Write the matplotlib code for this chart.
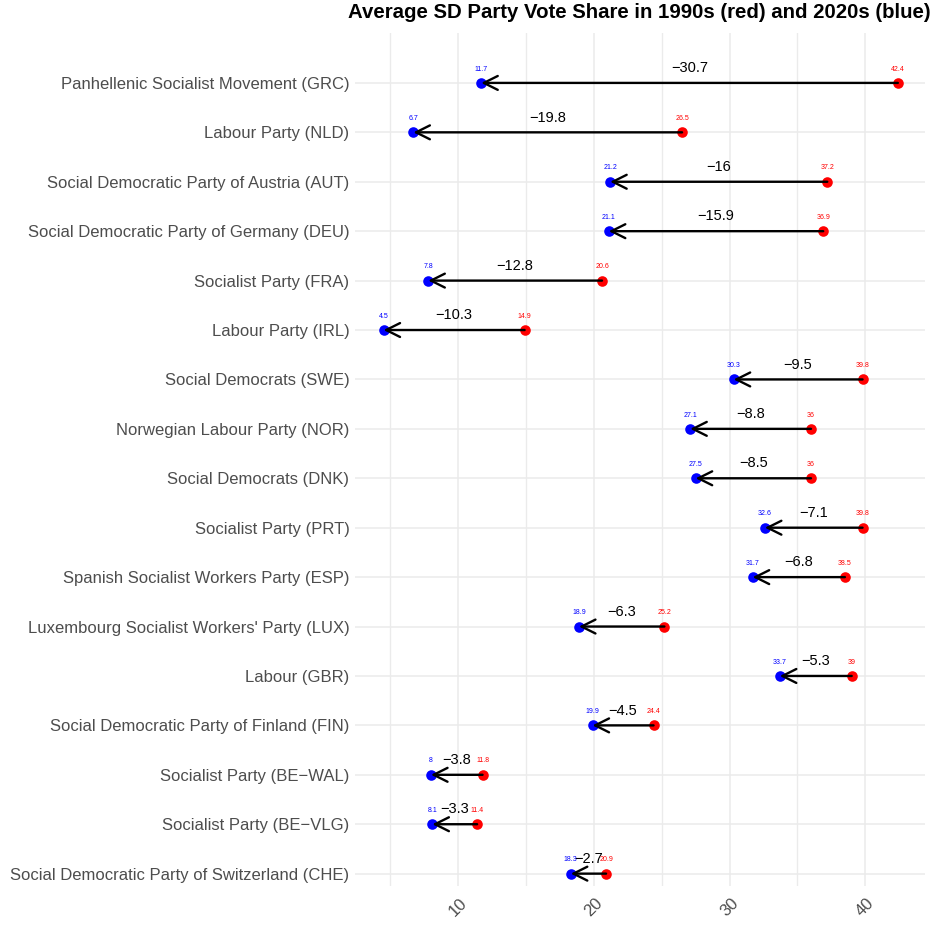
import matplotlib
matplotlib.use("Agg")
import matplotlib.pyplot as plt
from matplotlib.ticker import MultipleLocator

parties = [
    "Panhellenic Socialist Movement (GRC)",
    "Labour Party (NLD)",
    "Social Democratic Party of Austria (AUT)",
    "Social Democratic Party of Germany (DEU)",
    "Socialist Party (FRA)",
    "Labour Party (IRL)",
    "Social Democrats (SWE)",
    "Norwegian Labour Party (NOR)",
    "Social Democrats (DNK)",
    "Socialist Party (PRT)",
    "Spanish Socialist Workers Party (ESP)",
    "Luxembourg Socialist Workers' Party (LUX)",
    "Labour (GBR)",
    "Social Democratic Party of Finland (FIN)",
    "Socialist Party (BE\u2212WAL)",
    "Socialist Party (BE\u2212VLG)",
    "Social Democratic Party of Switzerland (CHE)",
]
share_1990s = [42.4, 26.5, 37.2, 36.9, 20.6, 14.9, 39.8, 36, 36, 39.8, 38.5, 25.2, 39, 24.4, 11.8, 11.4, 20.9]
share_2020s = [11.7, 6.7, 21.2, 21.1, 7.8, 4.5, 30.3, 27.1, 27.5, 32.6, 31.7, 18.9, 33.7, 19.9, 8, 8.1, 18.3]
diff_labels = ["\u221230.7", "\u221219.8", "\u221216", "\u221215.9", "\u221212.8", "\u221210.3",
               "\u22129.5", "\u22128.8", "\u22128.5", "\u22127.1", "\u22126.8", "\u22126.3",
               "\u22125.3", "\u22124.5", "\u22123.8", "\u22123.3", "\u22122.7"]
old_labels = ["42.4", "26.5", "37.2", "36.9", "20.6", "14.9", "39.8", "36", "36", "39.8",
              "38.5", "25.2", "39", "24.4", "11.8", "11.4", "20.9"]
new_labels = ["11.7", "6.7", "21.2", "21.1", "7.8", "4.5", "30.3", "27.1", "27.5", "32.6",
              "31.7", "18.9", "33.7", "19.9", "8", "8.1", "18.3"]
x_ticks = [10, 20, 30, 40]

plt.rcParams['font.family'] = ['Liberation Sans', 'DejaVu Sans']

W, H = 933, 931
fig = plt.figure(figsize=(W / 100, H / 100), dpi=100)
ax = fig.add_axes([355 / W, (H - 886) / H, (925 - 355) / W, (886 - 33) / H])

ypos = list(range(len(parties)))
grid_c = "#EBEBEB"

ax.set_xlim(2.4, 44.4)
ax.set_ylim(16.25, -1.01)
ax.set_xticks(x_ticks)
ax.xaxis.set_minor_locator(MultipleLocator(5))
ax.set_yticks(ypos)
ax.set_yticklabels(parties)
ax.grid(True, which="major", axis="both", color=grid_c, lw=1.1, zorder=0)
ax.grid(True, which="minor", axis="x", color=grid_c, lw=1.0, zorder=0)
ax.set_axisbelow(True)
for s in ax.spines.values():
    s.set_visible(False)
ax.tick_params(axis="both", which="both", length=0)
ax.tick_params(axis="y", pad=4, labelsize=12, labelcolor="#4D4D4D")
ax.tick_params(axis="x", pad=7, labelsize=12, labelcolor="#4D4D4D")
for lab in ax.get_xticklabels():
    lab.set_rotation(45)
    lab.set_ha("center")
    lab.set_va("top")

ax.scatter(share_1990s, ypos, s=58, color="#FF0000", zorder=3, linewidths=0)
ax.scatter(share_2020s, ypos, s=58, color="#0000FF", zorder=3, linewidths=0)

for y, a, b in zip(ypos, share_1990s, share_2020s):
    ax.annotate("", xy=(b, y), xytext=(a, y),
                arrowprops=dict(arrowstyle="->,head_length=1.0,head_width=0.5",
                                lw=1.7, color="black", shrinkA=0, shrinkB=0),
                zorder=4)

for y, a, b, d, la, lb in zip(ypos, share_1990s, share_2020s, diff_labels, old_labels, new_labels):
    ax.text((a + b) / 2, y - 0.3, d, ha="center", va="center", fontsize=10.5, color="black", zorder=5)
    ax.text(a, y - 0.28, la, ha="center", va="center", fontsize=5, color="#FF0000", zorder=5)
    ax.text(b, y - 0.28, lb, ha="center", va="center", fontsize=5, color="#0000FF", zorder=5)

fig.text(348 / W, 1 - 13 / H, "Average SD Party Vote Share in 1990s (red) and 2020s (blue)",
         ha="left", va="center", fontsize=14.7, fontweight="bold", color="black")

fig.savefig("out.png", dpi=100, facecolor="white")
